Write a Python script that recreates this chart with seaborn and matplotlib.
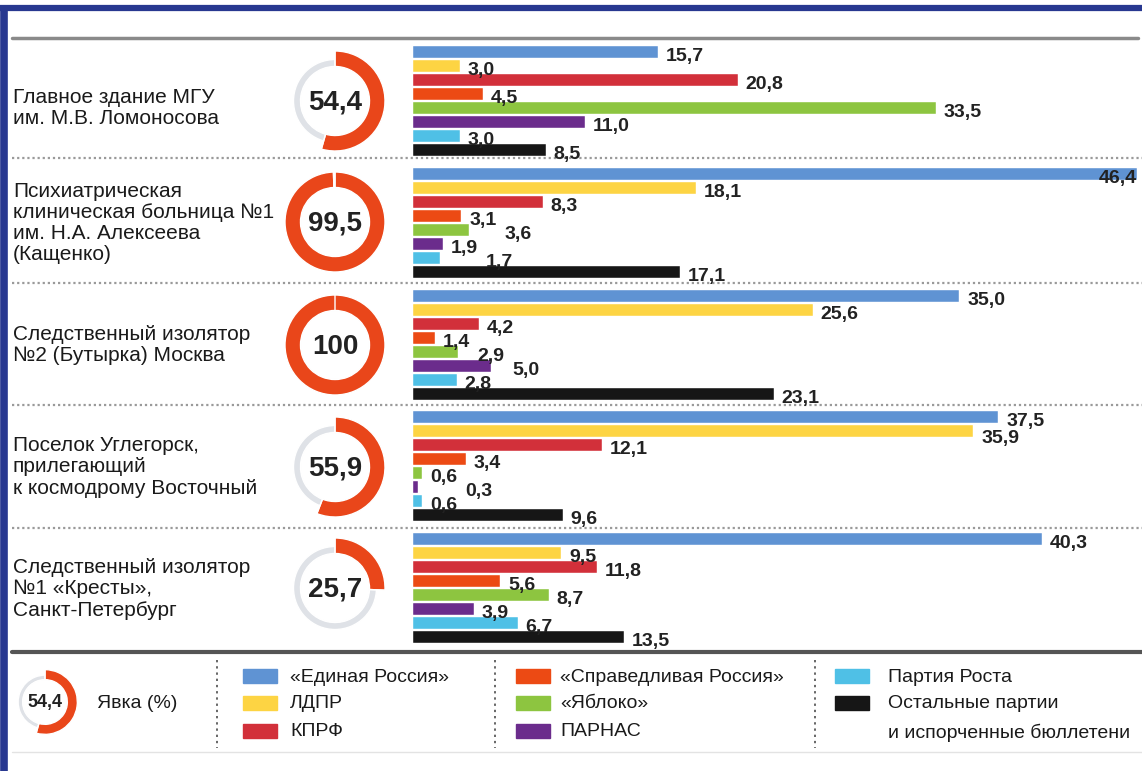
import numpy as np
import pandas as pd
import matplotlib
matplotlib.use("Agg")
import matplotlib.pyplot as plt
from matplotlib.patches import Rectangle
import seaborn as sns

# ------------------------------
# Data
# ------------------------------
places = [
    "Главное здание МГУ\nим. М.В. Ломоносова",
    "Психиатрическая\nклиническая больница №1\nим. Н.А. Алексеева\n(Кащенко)",
    "Следственный изолятор\n№2 (Бутырка) Москва",
    "Поселок Углегорск,\nприлегающий\nк космодрому Восточный",
    "Следственный изолятор\n№1 «Кресты»,\nСанкт-Петербург",
]
turnout = [54.4, 99.5, 100, 55.9, 25.7]

parties = ["«Единая Россия»", "ЛДПР", "КПРФ", "«Справедливая Россия»",
           "«Яблоко»", "ПАРНАС", "Партия Роста", "Остальные партии"]

er = [15.7, 46.4, 35.0, 37.5, 40.3]
ldpr = [3.0, 18.1, 25.6, 35.9, 9.5]
kprf = [20.8, 8.3, 4.2, 12.1, 11.8]
sr = [4.5, 3.1, 1.4, 3.4, 5.6]
yabloko = [33.5, 3.6, 2.9, 0.6, 8.7]
parnas = [11.0, 1.9, 5.0, 0.3, 3.9]
rost = [3.0, 1.7, 2.8, 0.6, 6.7]
other = [8.5, 17.1, 23.1, 9.6, 13.5]

colors = ["#5f93d3", "#fdd443", "#d2303a", "#ec4a14",
          "#8dc540", "#6b2c8c", "#4fc0e6", "#161616"]
red = "#e9461a"
ring_gray = "#dfe2e7"

# ------------------------------
# Figure setup
# ------------------------------
sns.set_theme(style="white")
plt.rcParams["font.family"] = ["Liberation Sans Narrow", "Liberation Sans", "DejaVu Sans"]

W, H = 1142, 771
fig = plt.figure(figsize=(W / 100, H / 100), dpi=100)
fig.patch.set_facecolor("white")

# background axes in pixel coordinates for frame, separators and texts
bg = fig.add_axes([0, 0, 1, 1])
bg.set_xlim(0, W)
bg.set_ylim(H, 0)
bg.axis("off")

# navy frame on top and left
bg.plot([0, W], [8, 8], color="#283890", lw=4.5, solid_capstyle="butt")
bg.plot([3.5, 3.5], [6, H], color="#283890", lw=5.5, solid_capstyle="butt")
# thick gray top rule
bg.plot([12, 1138], [38, 38], color="#8a8a8a", lw=2.5)
# dotted separators between groups
for y in [158, 283, 405, 528]:
    bg.plot([12, W], [y, y], color="#9a9a9a", lw=1.6, ls=(0, (1, 1.3)))
# rule above legend and bottom line
bg.plot([12, W], [652, 652], color="#555555", lw=3)
bg.plot([12, W], [752, 752], color="#e3e3e3", lw=1)


def px(x, y, w, h):
    # pixel box (top-left origin) -> figure fraction
    return [x / W, 1 - (y + h) / H, w / W, h / H]


def fmt(v):
    return f"{v:.1f}".replace(".", ",")


def label_width(s):
    # rough width of a bold 14pt label, in data units (15.6 px per unit)
    return (sum(10.8 if c.isdigit() else 5.4 for c in s)) / 15.6


def donut(cx, cy, r, value, fs):
    ax = fig.add_axes(px(cx - r, cy - r, 2 * r, 2 * r))
    ax.pie([1], radius=0.83, colors=[ring_gray], wedgeprops=dict(width=0.15))
    ax.pie([value, 100 - value], radius=1.0, colors=[red, "none"], startangle=90,
           counterclock=False, wedgeprops=dict(width=0.31))
    ax.set_xlim(-1.02, 1.02)
    ax.set_ylim(-1.02, 1.02)
    ax.set_aspect("equal")
    ax.axis("off")
    ax.text(0, -0.03, fmt(value) if value != 100 else "100", ha="center", va="center",
            fontsize=fs, fontweight="bold", color="#222222")


# ------------------------------
# Groups
# ------------------------------
group_top = [45, 167, 289, 410, 532]
group_h = 112
centers = [101, 222, 345, 467, 588]
text_y = [108, 223, 345, 467, 589]
xmax = 46.7

for i in range(len(places)):
    vals = [er[i], ldpr[i], kprf[i], sr[i], yabloko[i], parnas[i], rost[i], other[i]]
    df = pd.DataFrame({"party": parties, "value": vals})

    ax = fig.add_axes(px(413, group_top[i], W - 413, group_h))
    sns.barplot(data=df, x="value", y="party", hue="party", palette=colors,
                orient="h", width=0.92, saturation=1, legend=False, ax=ax,
                edgecolor="white", linewidth=0.3)
    ax.set_xlim(0, xmax)
    ax.set_ylim(7.5, -0.5)
    ax.axis("off")
    ax.patch.set_alpha(0)

    # value labels, nudged when they would collide with the one above
    prev = None
    for j, v in enumerate(vals):
        s = fmt(v)
        w = label_width(s)
        if v + w + 0.5 > xmax:
            ax.text(v, j + 0.3, s, ha="right", va="center", fontsize=14,
                    fontweight="bold", color="#222222")
            prev = (v - w, v)
            continue
        x = v + 0.5
        y = j + 0.3
        if prev is not None and x < prev[1] + 0.3 and x + w > prev[0] - 0.3:
            if v > 20:
                y = j + 0.55   # long bars: stagger down like the original
            else:
                x = prev[1] + 0.5
        ax.text(x, y, s, ha="left", va="center", fontsize=14,
                fontweight="bold", color="#222222")
        prev = (x, x + w)

    donut(335, centers[i], 51, turnout[i], 20)
    bg.text(13, text_y[i], places[i], ha="left", va="center", fontsize=15,
            color="#1a1a1a", linespacing=1.15)

# ------------------------------
# Legend
# ------------------------------
donut(45, 702, 33, 54.4, 13)
bg.text(97, 704, "Явка (%)", ha="left", va="center", fontsize=14, color="#1a1a1a")

for x in [217, 495, 815]:
    bg.plot([x, x], [660, 748], color="#666666", lw=1.4, ls=(0, (1.2, 2)))

legend_cols = [(243, 290, [0, 1, 2]), (516, 560, [3, 4, 5]), (835, 888, [6, 7])]
legend_rows = [676, 703, 731]
for sx, tx, idx in legend_cols:
    for r, k in enumerate(idx):
        y = legend_rows[r]
        bg.add_patch(Rectangle((sx, y - 7), 34, 14, color=colors[k]))
        bg.text(tx, y + 1, parties[k], ha="left", va="center", fontsize=14, color="#1a1a1a")
bg.text(888, 733, "и испорченные бюллетени", ha="left", va="center", fontsize=14,
        color="#1a1a1a")

plt.savefig("out.png", dpi=100)
